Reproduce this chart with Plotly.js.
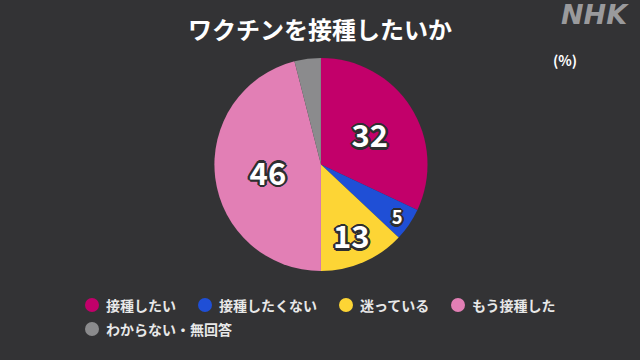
<!DOCTYPE html>
<html>
<head>
<meta charset="utf-8">
<script src="https://cdn.plot.ly/plotly-3.0.1.min.js"></script>
<style>html,body{margin:0;padding:0;background:#333335;}#chart{width:640px;height:360px;}</style>
</head>
<body>
<div id="chart"></div>
<script>
const categories = ["接種したい", "接種したくない", "迷っている", "もう接種した", "わからない・無回答"];
const values = [32, 5, 13, 46, 4];
const labelsShown = ["32", "5", "13", "46", ""];
const colors = ["#C2006A", "#1F4FD6", "#FDD535", "#E27FB5", "#8B8B8D"];
const titleText = "ワクチンを接種したいか";
const unitText = "(%)";

// legend layout (pixel positions of each entry: marker centre x, row centre y)
const legendX = [92, 205, 346, 458, 92];
const legendY = [305, 305, 305, 305, 329];

const W = 640, H = 360;
const font = "Noto Sans CJK JP, Noto Sans, sans-serif";
const oc = "#2e2e30";
const outline = [[2,0],[-2,0],[0,2],[0,-2],[1.5,1.5],[-1.5,-1.5],[1.5,-1.5],[-1.5,1.5],[2.5,0],[-2.5,0],[0,2.5],[0,-2.5]].map(p => p[0]+"px "+p[1]+"px 0 "+oc).join(", ");

const pie = {
  type: "pie",
  values: values,
  labels: categories,
  text: labelsShown,
  textinfo: "text",
  textposition: "inside",
  insidetextorientation: "horizontal",
  sort: false,
  direction: "clockwise",
  rotation: 0,
  marker: {colors: colors, line: {width: 0}},
  textfont: {family: font, size: 31, color: "#ffffff", weight: 700, shadow: outline},
  showlegend: false,
  hoverinfo: "none",
  domain: {x: [0.334, 0.669], y: [0.247, 0.839]}
};

const shapes = categories.map((c, i) => ({
  type: "circle",
  xref: "paper", yref: "paper",
  xsizemode: "pixel", ysizemode: "pixel",
  xanchor: legendX[i] / W, yanchor: 1 - legendY[i] / H,
  x0: -7, x1: 7, y0: -7, y1: 7,
  fillcolor: colors[i],
  line: {width: 0}
}));

const legendAnn = categories.map((c, i) => ({
  text: c,
  xref: "paper", yref: "paper",
  x: (legendX[i] + 12) / W, y: 1 - legendY[i] / H,
  xanchor: "left", yanchor: "middle",
  showarrow: false,
  font: {family: font, size: 14, color: "#e8e8e8", weight: 700}
}));

const layout = {
  width: W, height: H,
  margin: {l: 0, r: 0, t: 0, b: 0},
  paper_bgcolor: "#333335",
  plot_bgcolor: "rgba(0,0,0,0)",
  showlegend: false,
  title: {text: titleText, font: {family: font, size: 24, color: "#ffffff", weight: 700}, x: 0.5, xanchor: "center", y: 0.915, yanchor: "middle"},
  shapes: shapes,
  annotations: [
    {text: unitText, x: 565 / W, y: 1 - 60 / H, xref: "paper", yref: "paper", xanchor: "center", yanchor: "middle", showarrow: false, font: {family: font, size: 14, color: "#ffffff", weight: 700}},
    {text: "<b><i>NHK</i></b>", x: 595 / W, y: 1 - 15 / H, xref: "paper", yref: "paper", xanchor: "center", yanchor: "middle", showarrow: false, font: {family: "DejaVu Sans, sans-serif", size: 27, color: "#9a9a9c"}}
  ].concat(legendAnn)
};

Plotly.newPlot("chart", [pie], layout, {staticPlot: true, displayModeBar: false});
</script>
</body>
</html>
